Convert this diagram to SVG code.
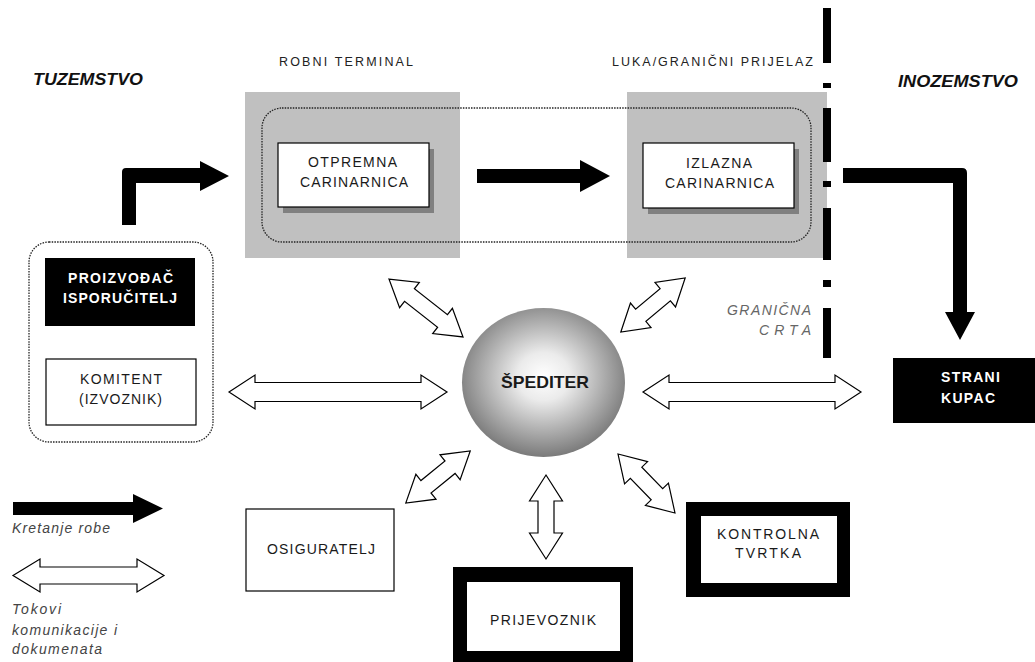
<svg xmlns="http://www.w3.org/2000/svg" width="1035" height="662" viewBox="0 0 1035 662">
<style>
.t{font-family:"Liberation Sans",Arial,sans-serif;fill:#1a1a1a}
.lbl{font-size:14px}
.wb{font-size:14px;font-weight:bold;fill:#fff}
.hd{font-size:17px;font-weight:bold;font-style:italic;fill:#111}
.top{font-size:12.5px;fill:#222}
.it{font-size:14px;font-style:italic;fill:#444}
.gr{font-size:14px;font-style:italic;fill:#666}
.dbl{fill:#fff;stroke:#000;stroke-width:1.2;stroke-linejoin:miter}
.dot{fill:none;stroke:#222;stroke-width:1.3;stroke-dasharray:1.5 1.2}
.gray{fill:#c0c0c0}
.shadow{fill:#808080}
.wbox{fill:#fff;stroke:#000;stroke-width:1.2}
</style>
<defs>
<radialGradient id="sph" cx="50%" cy="46%" r="54%">
<stop offset="0" stop-color="#ffffff"/>
<stop offset="0.3" stop-color="#ebebeb"/>
<stop offset="1" stop-color="#7a7a7a"/>
</radialGradient>
</defs>

<!-- region labels -->
<text class="t hd" x="33" y="85" textLength="110" lengthAdjust="spacingAndGlyphs">TUZEMSTVO</text>
<text class="t hd" x="898" y="87" textLength="120" lengthAdjust="spacingAndGlyphs">INOZEMSTVO</text>
<text class="t top" x="279" y="66" textLength="134" lengthAdjust="spacing">ROBNI TERMINAL</text>
<text class="t top" x="612" y="66" textLength="201" lengthAdjust="spacing">LUKA/GRANIČNI PRIJELAZ</text>

<!-- terminal areas -->
<g id="robni-terminal">
<rect class="gray" x="245" y="92" width="215" height="166"/>
</g>
<g id="luka">
<rect class="gray" x="627" y="92" width="200" height="166"/>
</g>

<!-- border line -->
<g id="granicna-crta" fill="#000">
<rect x="823" y="8" width="8" height="55"/>
<rect x="823" y="83" width="8" height="5"/>
<rect x="823" y="108" width="8" height="54"/>
<rect x="823" y="181" width="8" height="6"/>
<rect x="823" y="208" width="8" height="52"/>
<rect x="823" y="280" width="8" height="7"/>
<rect x="823" y="308" width="8" height="50"/>
<text class="t gr" x="727" y="315" textLength="84" lengthAdjust="spacing">GRANIČNA</text>
<text class="t gr" x="759" y="335" textLength="52" lengthAdjust="spacing">CRTA</text>
</g>

<!-- dotted groupings -->
<rect class="dot" x="262" y="108" width="549" height="134" rx="20" ry="20"/>
<rect class="dot" x="29" y="242" width="184" height="200" rx="20" ry="20"/>

<g id="otpremna-carinarnica">
<rect class="shadow" x="283" y="149" width="151" height="64"/>
<rect class="wbox" x="278" y="143" width="151" height="64"/>
<text class="t lbl" x="308" y="167" textLength="89" lengthAdjust="spacing">OTPREMNA</text>
<text class="t lbl" x="300" y="187" textLength="108" lengthAdjust="spacing">CARINARNICA</text>
</g>

<g id="izlazna-carinarnica">
<rect class="shadow" x="648" y="149" width="151" height="65"/>
<rect class="wbox" x="643" y="143" width="151" height="65"/>
<text class="t lbl" x="686" y="168" textLength="66" lengthAdjust="spacing">IZLAZNA</text>
<text class="t lbl" x="665" y="188" textLength="109" lengthAdjust="spacing">CARINARNICA</text>
</g>

<g id="proizvodac">
<rect x="45" y="258" width="150" height="68" fill="#000"/>
<text class="t wb" x="68" y="283" textLength="105" lengthAdjust="spacing">PROIZVOĐAČ</text>
<text class="t wb" x="63" y="303" textLength="114" lengthAdjust="spacing">ISPORUČITELJ</text>
</g>

<g id="komitent">
<rect class="wbox" x="46" y="359" width="150" height="66"/>
<text class="t lbl" x="80" y="384" textLength="82" lengthAdjust="spacing">KOMITENT</text>
<text class="t lbl" x="79" y="404" textLength="83" lengthAdjust="spacing">(IZVOZNIK)</text>
</g>

<g id="strani-kupac">
<rect x="893" y="358" width="142" height="65" fill="#000"/>
<text class="t wb" x="941" y="382" textLength="59" lengthAdjust="spacing">STRANI</text>
<text class="t wb" x="941" y="403" textLength="54" lengthAdjust="spacing">KUPAC</text>
</g>

<g id="spediter">
<ellipse cx="543.5" cy="382.5" rx="81.5" ry="74.5" fill="url(#sph)"/>
<text class="t" x="501" y="388" font-size="17" font-weight="bold" fill="#111" textLength="88" lengthAdjust="spacingAndGlyphs">ŠPEDITER</text>
</g>

<g id="osiguratelj">
<rect class="wbox" x="246" y="509" width="148" height="82"/>
<text class="t lbl" x="267" y="554" textLength="108" lengthAdjust="spacing">OSIGURATELJ</text>
</g>

<g id="prijevoznik">
<path d="M453,567H633V662H453Z M467,582V651H620V582Z" fill="#000" fill-rule="evenodd"/>
<text class="t lbl" x="490" y="625" textLength="106" lengthAdjust="spacing">PRIJEVOZNIK</text>
</g>

<g id="kontrolna-tvrtka">
<path d="M686,502H850V597H686Z M701,516V583H837V516Z" fill="#000" fill-rule="evenodd"/>
<text class="t lbl" x="717" y="539" textLength="102" lengthAdjust="spacing">KONTROLNA</text>
<text class="t lbl" x="735" y="558" textLength="66" lengthAdjust="spacing">TVRTKA</text>
</g>

<!-- connectors -->
<g id="connectors">
<!-- goods flow (black) -->
<path d="M122,225V172Q122,168 126,168H200V161L229,176L200,191V183H136V225Z" fill="#000"/>
<path d="M477,169H580V160L610,176L580,192V183H477Z" fill="#000"/>
<path d="M843,168H962Q967,168 967,173V312H975L960,340L945,312H953V183H843Z" fill="#000"/>
<!-- communication flows (hollow double) -->
<path class="dbl" transform="translate(338,392)" d="M-109,0L-83,-17V-9.5H83V-17L109,0L83,17V9.5H-83V17Z"/>
<path class="dbl" transform="translate(752,392)" d="M-109,0L-83,-17V-9.5H83V-17L109,0L83,17V9.5H-83V17Z"/>
<path class="dbl" transform="translate(426,308) rotate(38)" d="M-47,0L-21,-16V-8H21V-16L47,0L21,16V8H-21V16Z"/>
<path class="dbl" transform="translate(653,305) rotate(-40)" d="M-42,0L-16,-16V-8H16V-16L42,0L16,16V8H-16V16Z"/>
<path class="dbl" transform="translate(438,477) rotate(-39)" d="M-41.5,0L-15.5,-16V-8H15.5V-16L41.5,0L15.5,16V8H-15.5V16Z"/>
<path class="dbl" transform="translate(546,517) rotate(90)" d="M-42,0L-16,-16.5V-8H16V-16.5L42,0L16,16.5V8H-16V16.5Z"/>
<path class="dbl" transform="translate(646.5,483.5) rotate(46)" d="M-41,0L-15,-16V-8H15V-16L41,0L15,16V8H-15V16Z"/>
</g>

<!-- legend -->
<g id="legend">
<path d="M13,502H133V494L163,508.5L133,523V515H13Z" fill="#000"/>
<text class="t it" x="12" y="533" textLength="98" lengthAdjust="spacing">Kretanje robe</text>
<path class="dbl" transform="translate(88.5,575.5)" d="M-75.5,0L-48.5,-16.5V-8.5H48.5V-16.5L75.5,0L48.5,16.5V8.5H-48.5V16.5Z"/>
<text class="t it" x="12" y="614" textLength="49" lengthAdjust="spacing">Tokovi</text>
<text class="t it" x="12" y="635" textLength="105" lengthAdjust="spacing">komunikacije i</text>
<text class="t it" x="12" y="654" textLength="90" lengthAdjust="spacing">dokumenata</text>
</g>
</svg>
